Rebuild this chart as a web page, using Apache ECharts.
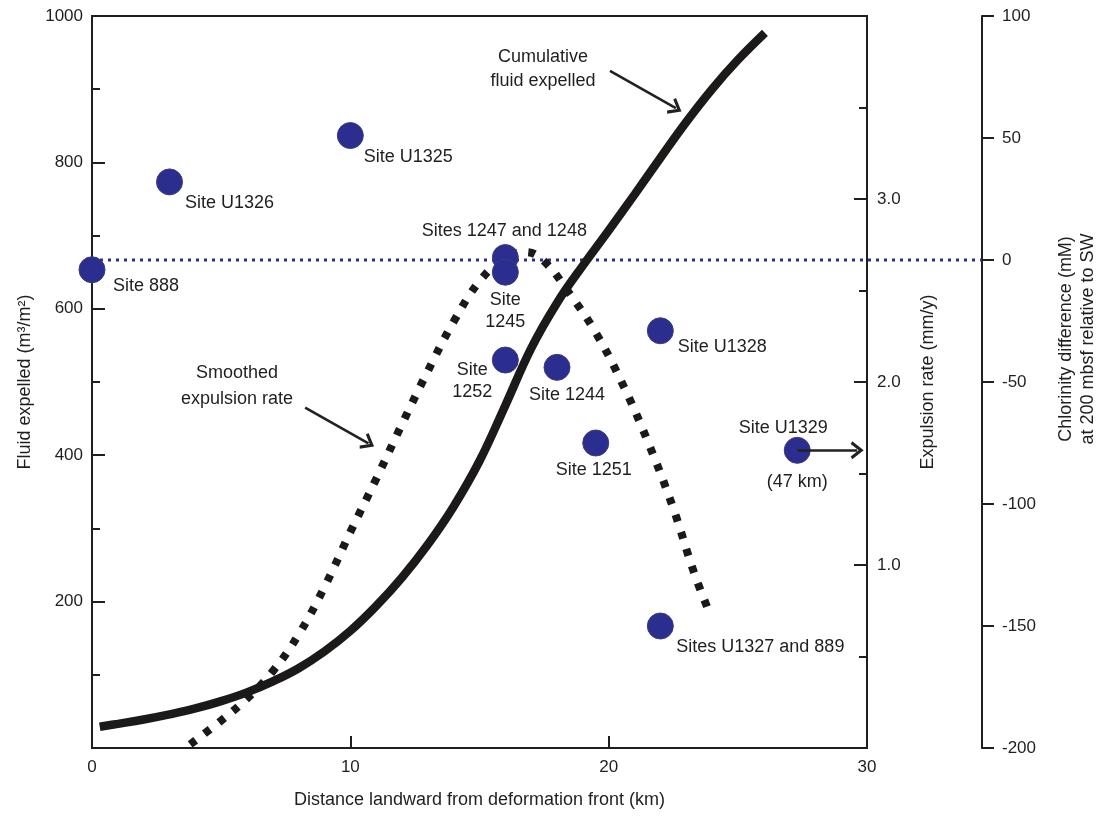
<!DOCTYPE html>
<html>
<head>
<meta charset="utf-8">
<title>Fluid expulsion and chlorinity across the margin</title>
<script src="https://cdn.jsdelivr.net/npm/echarts@6.0.0/dist/echarts.min.js"></script>
<style>
  html, body { margin: 0; padding: 0; background: #fff; }
  #chart { width: 1103px; height: 816px; }
</style>
</head>
<body>
<div id="chart"></div>
<script>
// ---- data ----
// Drill sites: distance from deformation front (km) and chlorinity difference (mM)
const siteNames = ['Site 888', 'Site U1326', 'Site U1325', 'Sites 1247 and 1248', 'Site 1245',
  'Site 1252', 'Site 1244', 'Site U1328', 'Site 1251', 'Site U1329', 'Sites U1327 and 889'];
const siteLabels = ['Site 888', 'Site U1326', 'Site U1325', 'Sites 1247 and 1248', 'Site\n1245',
  'Site\n1252', 'Site 1244', 'Site U1328', 'Site 1251', 'Site U1329', 'Sites U1327 and 889'];
const siteDistanceKm = [0, 3, 10, 16, 16, 16, 18, 22, 19.5, 27.3, 22];
const siteChlorinity = [-4, 32, 51, 1, -5, -41, -44, -29, -75, -78, -150];
// Site U1329 actually lies at 47 km
const u1329TrueDistance = '(47 km)';

// Cumulative fluid expelled (m3/m2) vs distance (km)
const cumulativeKm = [0.3, 1, 2, 3, 4, 5, 6, 7, 8, 9, 10, 11, 12, 13, 14, 15, 16, 17, 18, 19, 20,
  21, 22, 23, 24, 25, 26.05];
const cumulativeFluid = [29, 33, 39, 46, 54, 64, 76, 91, 109, 132, 160, 194, 233, 278, 330, 392, 468,
  546, 608, 659, 707, 756, 806, 855, 900, 940, 977];

// Smoothed expulsion rate (mm/y) vs distance (km)
const rateKm = [3.8, 5, 6, 7, 8, 9, 10, 11, 12, 13, 14, 15, 16, 16.8, 17.5, 18.5, 19.5, 20.5, 21.5,
  22.5, 23.3, 23.9];
const rateValue = [0.02, 0.15, 0.27, 0.42, 0.62, 0.88, 1.18, 1.47, 1.77, 2.06, 2.33, 2.55, 2.68, 2.71,
  2.66, 2.48, 2.27, 2.00, 1.68, 1.31, 0.96, 0.74];

// Axis ranges and tick steps
const distanceRange = [0, 30, 10];
const fluidRange = [0, 1000, 200];
const rateRange = [0, 4, 1];
const chlorRange = [-200, 100, 50];

// ---- layout and styles ----
const GRID = { left: 92, right: 236, top: 16, bottom: 68 };
const CHLOR_OFFSET = 115;
const FONT = "'Liberation Sans', Arial, Helvetica, sans-serif";
const INK = '#1f1f1f';
const DOT = '#2b2e8e';
const CHEVRON = 'path://M0,10 L7,0 L14,10 L11.9,11.4 L7,4.4 L2.1,11.4 Z';

const labelOffsets = {
  'Site 888': [54, 16],
  'Site U1326': [60, 21],
  'Site U1325': [58, 21],
  'Sites 1247 and 1248': [-1, -27],
  'Site 1245': [0, 39],
  'Site 1252': [-33, 21],
  'Site 1244': [10, 28],
  'Site U1328': [62, 16],
  'Site 1251': [-2, 27],
  'Site U1329': [-14, 23],
  'Sites U1327 and 889': [100, 21]
};

const siteData = siteNames.map((name, i) => {
  const item = {
    name: name,
    value: [siteDistanceKm[i], siteChlorinity[i]],
    label: { offset: labelOffsets[name], formatter: siteLabels[i] }
  };
  if (name === 'Site U1329') {
    item.label.formatter = '{a|' + siteLabels[i] + '}\n{b|' + u1329TrueDistance + '}';
  }
  return item;
});

const markArrows = (pairs) => ({
  silent: true,
  animation: false,
  symbol: ['none', CHEVRON],
  symbolSize: [18, 13],
  label: { show: false },
  lineStyle: { type: 'solid', color: '#222', width: 2.6 },
  itemStyle: { color: '#222' },
  emphasis: { disabled: true },
  data: pairs.map(p => [{ coord: p[0] }, { coord: p[1] }])
});

const axisLineStyle = { show: true, lineStyle: { color: INK, width: 2 } };
const tickLabel = { color: INK, fontSize: 17, fontFamily: FONT };
const nameStyle = { color: INK, fontSize: 18, fontFamily: FONT };

const chart = echarts.init(document.getElementById('chart'), null, { renderer: 'canvas' });

chart.setOption({
  animation: false,
  backgroundColor: '#ffffff',
  textStyle: { fontFamily: FONT },
  grid: [
    {
      left: GRID.left, right: GRID.right, top: GRID.top, bottom: GRID.bottom,
      show: true, borderColor: INK, borderWidth: 2, backgroundColor: 'transparent',
      outerBoundsMode: 'none', containLabel: false
    },
    {
      // spans from the left axis out to the chlorinity axis, for the zero reference line
      left: GRID.left, right: GRID.right - CHLOR_OFFSET, top: GRID.top, bottom: GRID.bottom,
      show: false, outerBoundsMode: 'none', containLabel: false
    }
  ],
  xAxis: [
    {
      type: 'value', gridIndex: 0,
      min: distanceRange[0], max: distanceRange[1], interval: distanceRange[2],
      name: 'Distance landward from deformation front (km)',
      nameLocation: 'middle', nameGap: 43, nameTextStyle: nameStyle,
      axisLine: axisLineStyle,
      axisTick: { show: true, inside: true, length: 12, lineStyle: { color: INK, width: 2 } },
      axisLabel: Object.assign({ margin: 11 }, tickLabel),
      splitLine: { show: false }
    },
    { type: 'value', gridIndex: 1, min: 0, max: 1, show: false }
  ],
  yAxis: [
    {
      type: 'value', gridIndex: 0, position: 'left',
      min: fluidRange[0], max: fluidRange[1], interval: fluidRange[2],
      name: 'Fluid expelled (m³/m²)',
      nameLocation: 'middle', nameGap: 58, nameRotate: 90, nameTextStyle: nameStyle,
      axisLine: axisLineStyle,
      axisTick: { show: true, inside: true, length: 13, lineStyle: { color: INK, width: 2 } },
      minorTick: { show: true, splitNumber: 2, length: 8, lineStyle: { color: INK, width: 2 } },
      axisLabel: Object.assign({ margin: 9, formatter: v => (v === 0 ? '' : String(v)) }, tickLabel),
      splitLine: { show: false }, minorSplitLine: { show: false }
    },
    {
      type: 'value', gridIndex: 0, position: 'right', offset: 0,
      min: rateRange[0], max: rateRange[1], interval: rateRange[2],
      name: 'Expulsion rate (mm/y)',
      nameLocation: 'middle', nameGap: 52, nameRotate: 90, nameTextStyle: nameStyle,
      axisLine: axisLineStyle,
      axisTick: { show: true, inside: true, length: 13, lineStyle: { color: INK, width: 2 } },
      minorTick: { show: true, splitNumber: 2, length: 8, lineStyle: { color: INK, width: 2 } },
      axisLabel: Object.assign({
        margin: 10,
        formatter: v => (v === rateRange[0] || v === rateRange[1] ? '' : v.toFixed(1))
      }, tickLabel),
      splitLine: { show: false }, minorSplitLine: { show: false }
    },
    {
      type: 'value', gridIndex: 0, position: 'right', offset: CHLOR_OFFSET,
      min: chlorRange[0], max: chlorRange[1], interval: chlorRange[2],
      name: 'Chlorinity difference (mM)\nat 200 mbsf relative to SW',
      nameLocation: 'middle', nameGap: 73, nameRotate: 90,
      nameTextStyle: Object.assign({ lineHeight: 22, padding: [0, 0, 0, 86] }, nameStyle),
      axisLine: axisLineStyle,
      axisTick: { show: true, inside: false, length: 12, lineStyle: { color: INK, width: 2 } },
      axisLabel: Object.assign({ margin: 20 }, tickLabel),
      splitLine: { show: false }
    },
    {
      type: 'value', gridIndex: 1, show: false,
      min: chlorRange[0], max: chlorRange[1], interval: chlorRange[2]
    }
  ],
  graphic: [
    {
      type: 'text', x: 543, y: 69, silent: true,
      style: {
        text: 'Cumulative\nfluid expelled', align: 'center', verticalAlign: 'middle',
        fontSize: 18, lineHeight: 24, fontFamily: FONT, fill: INK
      }
    },
    {
      type: 'text', x: 237, y: 386, silent: true,
      style: {
        text: 'Smoothed\nexpulsion rate', align: 'center', verticalAlign: 'middle',
        fontSize: 18, lineHeight: 26, fontFamily: FONT, fill: INK
      }
    }
  ],
  series: [
    {
      name: 'Zero chlorinity difference',
      type: 'line', xAxisIndex: 1, yAxisIndex: 3, z: 1, silent: true,
      symbol: 'none',
      data: [[0, 0], [1, 0]],
      lineStyle: { color: DOT, width: 3, type: [3, 5] }
    },
    {
      name: 'Cumulative fluid expelled',
      type: 'line', xAxisIndex: 0, yAxisIndex: 0, z: 2, silent: true,
      symbol: 'none', smooth: 0.4,
      data: cumulativeKm.map((x, i) => [x, cumulativeFluid[i]]),
      lineStyle: { color: '#1c1919', width: 8.5, cap: 'butt' },
      markLine: markArrows([[[20.05, 925], [22.6, 874]]])
    },
    {
      name: 'Smoothed expulsion rate',
      type: 'line', xAxisIndex: 0, yAxisIndex: 1, z: 2, silent: true,
      symbol: 'none', smooth: 0.4,
      data: rateKm.map((x, i) => [x, rateValue[i]]),
      lineStyle: { color: '#1a1a1a', width: 8, type: [7, 11], cap: 'butt' },
      markLine: markArrows([[[8.25, 1.86], [10.7, 1.665]]])
    },
    {
      name: 'Chlorinity difference',
      type: 'scatter', xAxisIndex: 0, yAxisIndex: 2, z: 4, silent: true,
      symbol: 'circle', symbolSize: 26,
      itemStyle: { color: DOT, borderColor: '#3a3d7a', borderWidth: 1, opacity: 1 },
      label: {
        show: true, position: 'inside', align: 'center', verticalAlign: 'middle',
        color: INK, fontSize: 18, lineHeight: 22, fontFamily: FONT,
        rich: {
          a: { fontSize: 18, lineHeight: 18, color: INK, fontFamily: FONT },
          b: { fontSize: 18, lineHeight: 90, color: INK, fontFamily: FONT, align: 'right' }
        }
      },
      data: siteData,
      markLine: markArrows([[[27.3, -78], [29.62, -78]]])
    }
  ]
});
</script>
</body>
</html>
